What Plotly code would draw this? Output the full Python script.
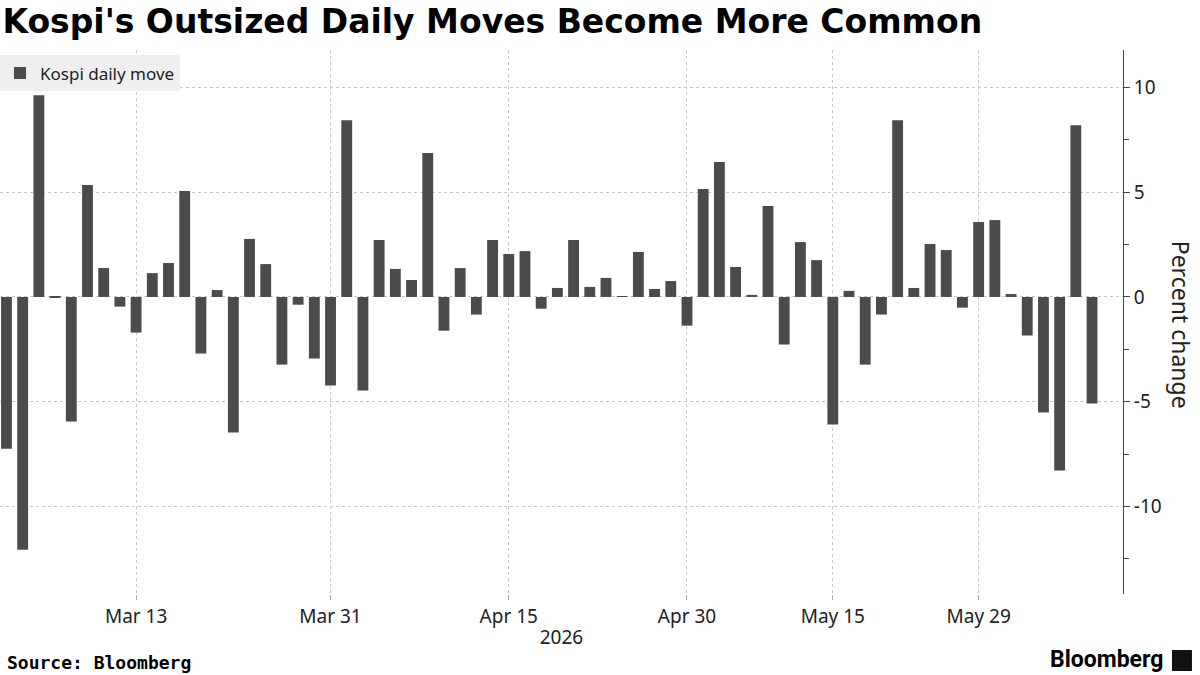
import plotly.graph_objects as go

dates = [
    "2026-03-03", "2026-03-04", "2026-03-05", "2026-03-06",
    "2026-03-09", "2026-03-10", "2026-03-11", "2026-03-12", "2026-03-13",
    "2026-03-16", "2026-03-17", "2026-03-18", "2026-03-19", "2026-03-20",
    "2026-03-23", "2026-03-24", "2026-03-25", "2026-03-26", "2026-03-27",
    "2026-03-30", "2026-03-31", "2026-04-01", "2026-04-02", "2026-04-03",
    "2026-04-06", "2026-04-07", "2026-04-08", "2026-04-09", "2026-04-10",
    "2026-04-13", "2026-04-14", "2026-04-15", "2026-04-16", "2026-04-17",
    "2026-04-20", "2026-04-21", "2026-04-22", "2026-04-23", "2026-04-24",
    "2026-04-27", "2026-04-28", "2026-04-29", "2026-04-30",
    "2026-05-04", "2026-05-06", "2026-05-07", "2026-05-08",
    "2026-05-11", "2026-05-12", "2026-05-13", "2026-05-14", "2026-05-15",
    "2026-05-18", "2026-05-19", "2026-05-20", "2026-05-21", "2026-05-22",
    "2026-05-26", "2026-05-27", "2026-05-28", "2026-05-29",
    "2026-06-01", "2026-06-02", "2026-06-04", "2026-06-05",
    "2026-06-08", "2026-06-09", "2026-06-10",
]

daily_move = [
    -7.25, -12.07, 9.63, -0.05, -5.95, 5.34, 1.38, -0.46, -1.70, 1.14,
    1.62, 5.06, -2.70, 0.33, -6.47, 2.77, 1.57, -3.23, -0.37, -2.94,
    -4.23, 8.44, -4.47, 2.72, 1.34, 0.81, 6.87, -1.61, 1.38, -0.84,
    2.72, 2.05, 2.19, -0.56, 0.43, 2.72, 0.48, 0.91, 0.03, 2.15,
    0.38, 0.76, -1.37, 5.15, 6.44, 1.43, 0.10, 4.34, -2.27, 2.62,
    1.76, -6.09, 0.29, -3.23, -0.84, 8.44, 0.43, 2.53, 2.24, -0.51,
    3.58, 3.67, 0.14, -1.84, -5.52, -8.28, 8.20, -5.09,
]

tick_dates = ["2026-03-13", "2026-03-31", "2026-04-15", "2026-04-30", "2026-05-15", "2026-05-29"]
tick_labels = ["Mar 13", "Mar 31", "Apr 15", "Apr 30", "May 15", "May 29"]

y_ticks = [-10, -5, 0, 5, 10]

BAR = "#4b4b4b"
GRID = "#c8c8c8"
FONT = "Noto Sans"

fig = go.Figure()
fig.add_trace(go.Bar(
    x=dates, y=daily_move, name="Kospi daily move",
    marker=dict(color=BAR, line=dict(width=0)),
    showlegend=True,
))

fig.update_layout(
    width=1200, height=675,
    margin=dict(l=0, r=77, t=50, b=81),
    paper_bgcolor="white", plot_bgcolor="white",
    bargap=0.33,
    font=dict(family=FONT, color="#222", size=17),
    title=dict(
        text="<b>Kospi's Outsized Daily Moves Become More Common</b>",
        font=dict(family="DejaVu Sans", size=33, color="black"),
        x=0.002, xanchor="left", xref="container",
        y=0.985, yanchor="top", yref="container",
    ),
    showlegend=True,
    legend=dict(
        x=0.0, y=0.99, xanchor="left", yanchor="top",
        bgcolor="#efefef", borderwidth=0,
        font=dict(family=FONT, size=17, color="#222"),
        itemwidth=30, tracegroupgap=0,
    ),
    xaxis=dict(
        type="category",
        range=[-0.4, 68.91],
        tickmode="array", tickvals=tick_dates, ticktext=tick_labels,
        showgrid=True, gridcolor=GRID, griddash="dot", gridwidth=1,
        ticks="outside", ticklen=5, tickcolor="#aaaaaa",
        showline=False, zeroline=False,
        tickfont=dict(family=FONT, size=19, color="#222"),
        title=dict(text="2026", font=dict(family=FONT, size=19, color="#222"), standoff=2),
    ),
    yaxis=dict(
        side="right",
        range=[-14.18, 11.79],
        tickmode="array", tickvals=y_ticks, ticktext=[str(v) for v in y_ticks],
        showgrid=True, gridcolor=GRID, griddash="dot", gridwidth=1,
        zeroline=False,
        showline=True, linecolor="#444", linewidth=1,
        ticks="outside", ticklen=6, tickcolor="#444",
        minor=dict(ticks="outside", ticklen=5, tickcolor="#444", tick0=0, dtick=2.5, showgrid=False),
        tickfont=dict(family=FONT, size=19, color="#222"),
    ),
)

fig.add_annotation(
    text="Percent change", textangle=90,
    xref="paper", yref="paper", x=1.0, xshift=58, y=0.495, xanchor="center", yanchor="middle",
    showarrow=False, font=dict(family=FONT, size=23, color="#222"),
)

fig.add_annotation(
    text="<b>Source: Bloomberg</b>",
    xref="paper", yref="paper", x=0.0045, y=-0.125, xanchor="left", yanchor="middle",
    showarrow=False, font=dict(family="DejaVu Sans Mono", size=18, color="black"),
)
fig.add_annotation(
    text="<b>Bloomberg</b>",
    xref="paper", yref="paper", x=1.0374, y=-0.121, xanchor="right", yanchor="middle",
    showarrow=False, font=dict(family="Roboto", size=23, color="black"),
)
fig.add_shape(
    type="rect", xref="paper", yref="paper",
    x0=1.0436, x1=1.0614, y0=-0.1415, y1=-0.103,
    fillcolor="#111", line=dict(width=0),
)

fig.write_html("out.html")
